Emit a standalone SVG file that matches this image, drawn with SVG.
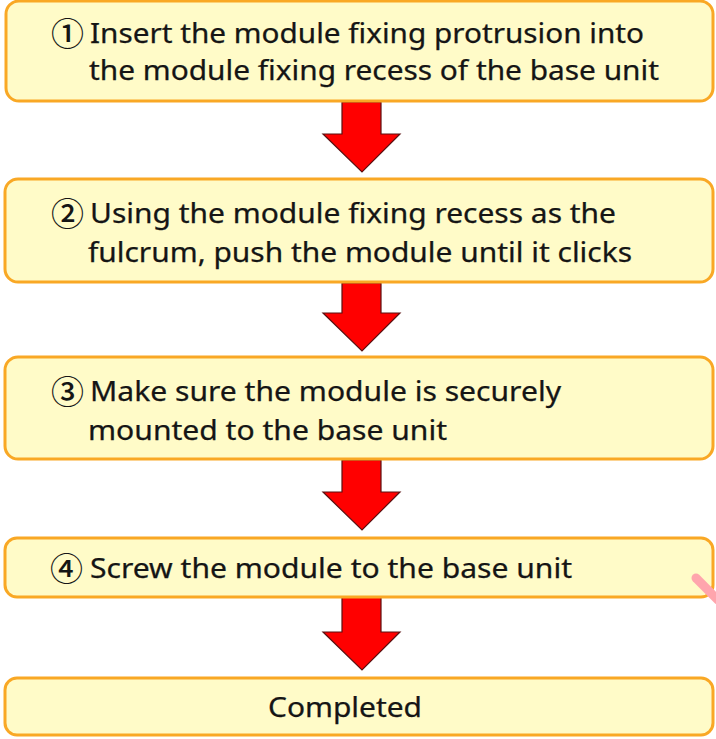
<svg xmlns="http://www.w3.org/2000/svg" width="716" height="739" viewBox="0 0 716 739">
<style>
.box{fill:#fffbc8;stroke:#f9a825;stroke-width:3}
.arr{fill:#ff0000;stroke:#5a1010;stroke-width:1.2;stroke-linejoin:miter}
.t{font-family:"Noto Sans","Open Sans",sans-serif;font-size:26.5px;fill:#151515;stroke:#151515;stroke-width:0.25}
.n{font-family:"Noto Sans CJK JP","Noto Sans",sans-serif;font-size:33px;font-weight:500;fill:#151515}
</style>
<rect width="716" height="739" fill="#ffffff"/>
<g id="connectors">
<polygon class="arr" points="342,102 381,102 381,134 400,134 362,172 323,134 342,134"/>
<polygon class="arr" points="342,283 381,283 381,313 400,313 362,351 323,313 342,313"/>
<polygon class="arr" points="342,460 381,460 381,492 400,492 362,530 323,492 342,492"/>
<polygon class="arr" points="342,597 381,597 381,632 400,632 362,670 323,632 342,632"/>
</g>
<g id="step1">
<rect class="box" x="6" y="1" width="707" height="100" rx="13"/>
<text class="n" x="51" y="46">①</text>
<text class="t" x="90" y="43" textLength="554" lengthAdjust="spacingAndGlyphs">Insert the module fixing protrusion into</text>
<text class="t" x="89" y="80" textLength="570" lengthAdjust="spacingAndGlyphs">the module fixing recess of the base unit</text>
</g>
<g id="step2">
<rect class="box" x="5" y="179" width="708" height="103" rx="13"/>
<text class="n" x="51" y="226">②</text>
<text class="t" x="90" y="223" textLength="526" lengthAdjust="spacingAndGlyphs">Using the module fixing recess as the</text>
<text class="t" x="88" y="262" textLength="544" lengthAdjust="spacingAndGlyphs">fulcrum, push the module until it clicks</text>
</g>
<g id="step3">
<rect class="box" x="5" y="357" width="708" height="102" rx="13"/>
<text class="n" x="51" y="404">③</text>
<text class="t" x="90" y="401" textLength="471" lengthAdjust="spacingAndGlyphs">Make sure the module is securely</text>
<text class="t" x="88" y="440" textLength="359" lengthAdjust="spacingAndGlyphs">mounted to the base unit</text>
</g>
<g id="step4">
<rect class="box" x="5" y="538" width="708" height="59" rx="12"/>
<text class="n" x="50" y="581">④</text>
<text class="t" x="90" y="578" textLength="482" lengthAdjust="spacingAndGlyphs">Screw the module to the base unit</text>
</g>
<g id="completed">
<rect class="box" x="5" y="678" width="708" height="57" rx="12"/>
<text class="t" x="268" y="717" textLength="154" lengthAdjust="spacingAndGlyphs">Completed</text>
</g>
<line x1="696" y1="578" x2="718" y2="600" stroke="#ffa5ad" stroke-width="9" stroke-linecap="round"/>
</svg>
